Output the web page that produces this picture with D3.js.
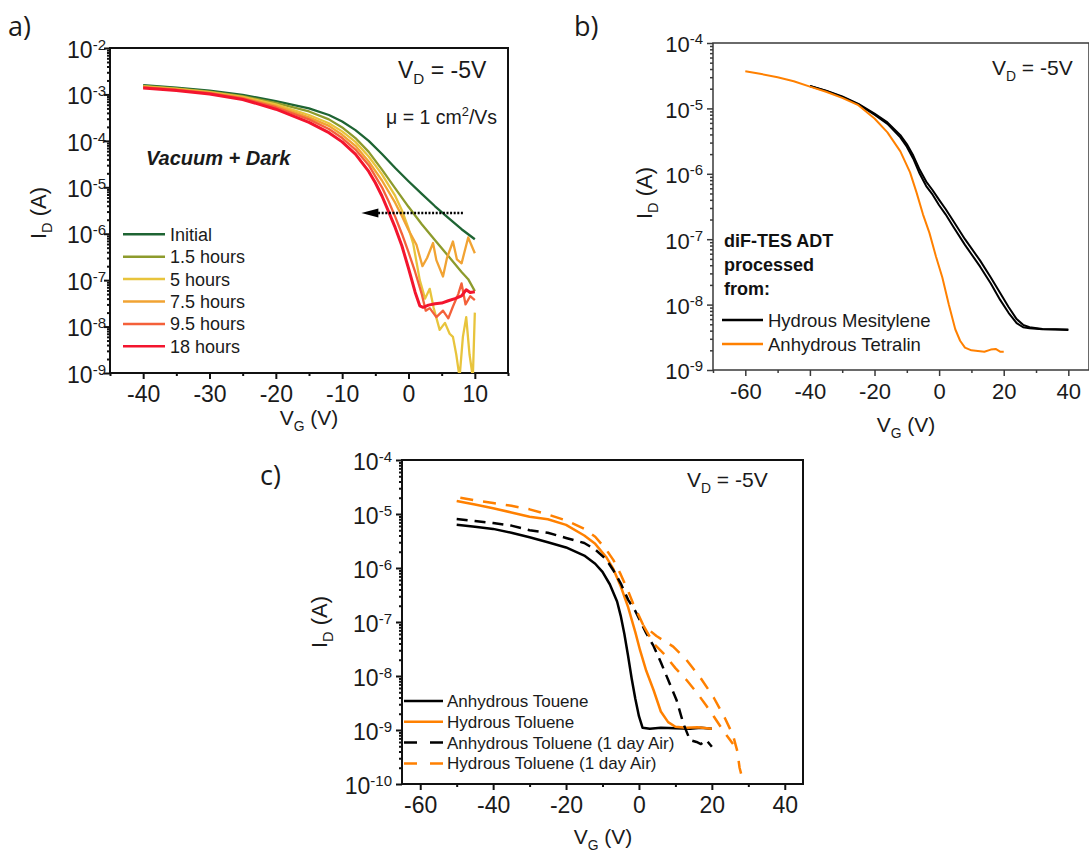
<!DOCTYPE html>
<html>
<head>
<meta charset="utf-8">
<script src="https://cdn.jsdelivr.net/npm/d3@7"></script>
<style>
  body { margin: 0; background: #fff; }
  svg text { font-family: "Liberation Sans", Arial, sans-serif; white-space: pre; }
</style>
</head>
<body>
<svg id="fig" width="1089" height="857"></svg>
<script>
// ---------- panel a : vacuum + dark, transfer curves over time ----------
const aNames = ["Initial", "1.5 hours", "5 hours", "7.5 hours", "9.5 hours", "18 hours"];
const aColors = ["#1e6433", "#8d9b2c", "#e8c43c", "#f1a333", "#f4603a", "#f3152e"];

const aInitial = [[-40, 1.58e-3], [-35, 1.40e-3], [-30, 1.20e-3], [-25, 9.8e-4], [-20, 7.2e-4], [-15, 5.0e-4],
  [-12, 3.6e-4], [-10, 2.6e-4], [-8, 1.7e-4], [-6, 1.0e-4], [-4, 5.2e-5], [-2, 2.6e-5], [0, 1.35e-5],
  [2, 7.2e-6], [4, 3.9e-6], [6, 2.2e-6], [8, 1.25e-6], [10, 7.6e-7]];
const a1h5 = [[-40, 1.52e-3], [-35, 1.35e-3], [-30, 1.15e-3], [-25, 9.2e-4], [-20, 6.6e-4], [-15, 4.3e-4],
  [-12, 2.9e-4], [-10, 1.95e-4], [-8, 1.15e-4], [-6, 5.8e-5], [-4, 2.4e-5], [-2, 9.5e-6], [0, 3.8e-6],
  [2, 1.6e-6], [4, 7.2e-7], [6, 3.3e-7], [8, 1.5e-7], [9, 1.05e-7], [10, 5.8e-8]];
const a5h = [[-40, 1.49e-3], [-35, 1.32e-3], [-30, 1.12e-3], [-25, 8.9e-4], [-20, 6.1e-4], [-15, 3.6e-4],
  [-12, 2.4e-4], [-10, 1.6e-4], [-8, 9.5e-5], [-6, 4.6e-5], [-4, 1.9e-5], [-2, 6.5e-6], [-1, 3.2e-6],
  [0, 1.3e-6], [0.7, 6.2e-7], [1.7, 1.0e-7], [2.5, 4.0e-8], [3.2, 6.5e-8], [3.8, 2.5e-8], [4.7, 8.5e-9],
  [5.5, 1.2e-8], [6.2, 7.0e-9], [6.7, 6.0e-9], [7.2, 2.5e-9], [7.7, 8.0e-10], [8.2, 6.0e-9], [8.7, 1.6e-8],
  [9.2, 2.5e-9], [9.7, 8.0e-10], [10, 2.0e-8]];
const a7h5 = [[-40, 1.46e-3], [-35, 1.29e-3], [-30, 1.09e-3], [-25, 8.5e-4], [-20, 5.7e-4], [-15, 3.2e-4],
  [-12, 2.1e-4], [-10, 1.35e-4], [-8, 7.8e-5], [-6, 3.6e-5], [-4, 1.4e-5], [-2, 4.6e-6], [-1, 2.4e-6],
  [0, 1.2e-6], [1.2, 5.8e-7], [2.1, 2.0e-7], [2.8, 3.0e-7], [3.7, 6.3e-7], [4.2, 2.7e-7], [5.2, 1.2e-7],
  [5.8, 3.0e-7], [6.7, 6.8e-7], [7.3, 2.8e-7], [8, 2.3e-7], [9, 8.3e-7], [10, 3.8e-7]];
const a9h5 = [[-40, 1.42e-3], [-35, 1.26e-3], [-30, 1.06e-3], [-25, 8.2e-4], [-20, 5.3e-4], [-15, 2.9e-4],
  [-12, 1.8e-4], [-10, 1.15e-4], [-8, 6.5e-5], [-6, 3.0e-5], [-4, 1.0e-5], [-3, 5.0e-6], [-2, 2.3e-6],
  [-1, 1.0e-6], [0, 4.0e-7], [1, 1.5e-7], [2, 5.0e-8], [2.6, 2.2e-8], [3.2, 2.5e-8], [4.2, 1.6e-8],
  [5.2, 2.2e-8], [6, 1.5e-8], [6.7, 2.7e-8], [7.5, 5.0e-8], [8, 8.5e-8], [8.6, 3.0e-8], [9.3, 4.5e-8],
  [10, 3.7e-8]];
const a18h = [[-40, 1.38e-3], [-35, 1.22e-3], [-30, 1.02e-3], [-25, 7.8e-4], [-20, 4.8e-4], [-15, 2.5e-4],
  [-12, 1.5e-4], [-10, 9.5e-5], [-8, 5.2e-5], [-6, 2.2e-5], [-5, 1.25e-5], [-4, 6.5e-6], [-3, 3.0e-6],
  [-2, 1.35e-6], [-1, 5.5e-7], [0, 1.8e-7], [1, 5.5e-8], [1.7, 2.8e-8], [2.2, 2.6e-8], [3, 2.9e-8],
  [4, 3.1e-8], [5, 3.2e-8], [6, 3.6e-8], [7, 4.0e-8], [8, 4.6e-8], [8.7, 6.2e-8], [9.3, 5.4e-8], [10, 5.6e-8]];
const aSeries = [aInitial, a1h5, a5h, a7h5, a9h5, a18h];
const aArrow = [8.2, -7.1, 2.8e-6]; // from V, to V, at I

// ---------- panel b : solvent comparison ----------
const bNames = ["Hydrous Mesitylene", "Anhydrous Tetralin"];
const bColors = ["#000000", "#ff8000"];
const bMesitylene = [[-40, 2.2e-5], [-35, 1.85e-5], [-30, 1.5e-5], [-25, 1.15e-5], [-20, 8.0e-6], [-16, 5.8e-6],
  [-12, 3.6e-6], [-10, 2.6e-6], [-8, 1.7e-6], [-6, 1.0e-6], [-4, 6.5e-7], [-2, 4.8e-7], [0, 3.3e-7],
  [2, 2.4e-7], [4.4, 1.55e-7], [8, 8.2e-8], [12.7, 3.8e-8], [16, 2.1e-8], [18.9, 1.18e-8], [21.5, 7.5e-9],
  [24, 5.2e-9], [26, 4.5e-9], [28, 4.35e-9], [32, 4.2e-9], [36, 4.15e-9], [40, 4.1e-9]];
const bMesityleneRev = [[-40, 2.2e-5], [-35, 1.86e-5], [-30, 1.52e-5], [-25, 1.17e-5], [-20, 8.3e-6], [-16, 6.1e-6],
  [-12, 3.9e-6], [-10, 2.85e-6], [-8, 1.9e-6], [-6, 1.15e-6], [-4, 7.6e-7], [-2, 5.6e-7], [0, 4.0e-7],
  [2, 2.9e-7], [4.4, 1.9e-7], [8, 1.0e-7], [12.7, 4.7e-8], [16, 2.6e-8], [18.9, 1.5e-8], [21.5, 9.2e-9],
  [24, 6.0e-9], [26, 4.9e-9], [28, 4.5e-9], [32, 4.25e-9], [36, 4.2e-9], [40, 4.15e-9]];
const bTetralin = [[-60, 3.7e-5], [-55, 3.35e-5], [-50, 3.0e-5], [-45, 2.6e-5], [-40, 2.15e-5], [-35, 1.8e-5],
  [-30, 1.45e-5], [-25, 1.12e-5], [-20, 7.0e-6], [-16, 4.3e-6], [-12, 2.2e-6], [-9, 1.05e-6], [-7, 5.2e-7],
  [-5, 2.4e-7], [-3, 1.25e-7], [-1, 5.5e-8], [1, 2.6e-8], [3, 1.0e-8], [5, 4.2e-9], [6.5, 2.8e-9],
  [8, 2.2e-9], [10, 2.0e-9], [12, 1.95e-9], [14, 1.9e-9], [16, 2.05e-9], [17.5, 2.1e-9], [19, 1.9e-9], [20, 1.9e-9]];
const bTitle = ["diF-TES ADT", "processed", "from:"];

// ---------- panel c : toluene, fresh and after 1 day in air ----------
const cNames = ["Anhydrous Touene", "Hydrous Toluene", "Anhydrous Toluene (1 day Air)", "Hydrous Toluene (1 day Air)"];
const cColors = ["#000000", "#ff8000", "#000000", "#ff8000"];
const cDashed = [false, false, true, true];
const cAnhydrous = [[-50, 6.3e-6], [-45, 5.8e-6], [-40, 5.3e-6], [-35, 4.5e-6], [-30, 3.7e-6], [-25, 3.0e-6],
  [-20, 2.4e-6], [-15, 1.7e-6], [-12, 1.2e-6], [-10, 8.5e-7], [-8, 5.0e-7], [-6, 2.4e-7], [-5, 1.3e-7],
  [-4, 6.0e-8], [-3, 2.4e-8], [-2, 9.0e-9], [-1, 3.8e-9], [0, 1.8e-9], [1, 1.1e-9], [3, 1.05e-9],
  [6, 1.1e-9], [10, 1.08e-9], [14, 1.05e-9], [17, 1.1e-9], [20, 1.05e-9]];
const cHydrous = [[-50, 1.74e-5], [-45, 1.5e-5], [-40, 1.28e-5], [-35, 1.07e-5], [-30, 8.9e-6], [-25, 8.0e-6],
  [-20, 6.3e-6], [-15, 4.0e-6], [-12, 2.8e-6], [-9, 1.6e-6], [-7, 9.5e-7], [-5, 4.6e-7], [-3, 1.9e-7],
  [-1, 6.5e-8], [0.3, 3.0e-8], [2, 1.25e-8], [4, 5.5e-9], [6, 2.2e-9], [8, 1.4e-9], [10, 1.15e-9],
  [13, 1.1e-9], [16, 1.12e-9], [20, 1.05e-9]];
const cAnhydrousAir = [[-50, 8.1e-6], [-45, 7.4e-6], [-40, 6.8e-6], [-35, 6.1e-6], [-30, 5.0e-6], [-25, 4.5e-6],
  [-20, 3.6e-6], [-15, 2.9e-6], [-12, 2.2e-6], [-9, 1.45e-6], [-7, 9.0e-7], [-5, 5.2e-7], [-3, 2.6e-7],
  [-1, 1.6e-7], [2, 6.2e-8], [4, 3.6e-8], [6, 1.8e-8], [8, 8.5e-9], [10.3, 3.6e-9], [12.2, 1.3e-9],
  [14, 6.5e-10], [15.8, 6.0e-10], [17, 5.5e-10], [18.5, 6.5e-10], [20, 4.9e-10]];
const cHydrousAir = [[-49, 2.0e-5], [-45, 1.8e-5], [-40, 1.6e-5], [-35, 1.42e-5], [-30, 1.22e-5], [-25, 9.8e-6],
  [-20, 7.6e-6], [-15, 5.3e-6], [-12, 3.8e-6], [-9, 2.2e-6], [-7, 1.4e-6], [-5, 7.6e-7], [-3, 3.8e-7],
  [-1.6, 2.2e-7], [0, 1.3e-7], [1.2, 8.7e-8], [4.8, 5.5e-8], [9.4, 3.5e-8], [13, 2.0e-8], [17, 9.0e-9],
  [20.5, 4.0e-9], [23.5, 1.7e-9], [25.8, 8.0e-10], [27, 4.0e-10], [27.6, 2.0e-10], [28.2, 1.4e-10]];
const cHydrousAirRev = [[1.2, 8.7e-8], [4, 4.0e-8], [7, 2.5e-8], [10, 1.4e-8], [13, 8.5e-9], [16, 4.8e-9],
  [18.5, 2.8e-9], [20.5, 1.8e-9], [23, 1.0e-9], [25, 6.5e-10], [25.8, 5.5e-10]];

// ---------- drawing ----------
const svg = d3.select("#fig");
let clipCount = 0;

const decades = (lo, hi) => d3.range(lo, hi + 1).map(e => Math.pow(10, e));
const subDecades = (lo, hi) =>
  d3.range(lo, hi).flatMap(e => d3.range(2, 10).map(k => k * Math.pow(10, e)));

// text made of plain / sub / sup pieces
const richText = (parent, x, y, parts, size, attrs = {}) => {
  const t = parent.append("text").attr("x", x).attr("y", y).attr("font-size", size);
  Object.entries(attrs).forEach(([k, v]) => t.attr(k, v));
  let shift = 0;
  parts.forEach(([s, kind]) => {
    const target = kind === "sub" ? size * 0.28 : kind === "sup" ? -size * 0.42 : 0;
    const sp = t.append("tspan").attr("dy", target - shift).text(s);
    if (kind) sp.attr("font-size", size * 0.66);
    shift = target;
  });
  return t;
};

const makePanel = p => {
  const x = d3.scaleLinear().domain(p.xDomain).range([p.box.left, p.box.right]);
  const y = d3.scaleLog().domain(p.yDomain).range([p.box.bottom, p.box.top]);
  const g = svg.append("g");
  const id = "clip" + clipCount++;
  g.append("clipPath").attr("id", id).append("rect")
    .attr("x", p.box.left).attr("y", p.box.top)
    .attr("width", p.box.right - p.box.left).attr("height", p.box.bottom - p.box.top);

  const styleAxis = ax => {
    ax.attr("font-family", null).attr("font-size", null);
    ax.select(".domain").remove();
    ax.selectAll("line").attr("stroke", p.axisColor).attr("stroke-width", p.axisWidth);
  };

  // x axis
  const xMinor = g.append("g").attr("transform", `translate(0,${p.box.bottom})`)
    .call(d3.axisBottom(x).tickValues(p.xMinor).tickSize(3).tickFormat(""));
  styleAxis(xMinor);
  const xMajor = g.append("g").attr("transform", `translate(0,${p.box.bottom})`)
    .call(d3.axisBottom(x).tickValues(p.xMajor).tickSize(6).tickPadding(7).tickFormat(d => String(d)));
  styleAxis(xMajor);
  xMajor.selectAll("text").attr("font-size", p.tickFont).attr("fill", "#1a1a1a");

  // y axis, log decades
  const yMinor = g.append("g").attr("transform", `translate(${p.box.left},0)`)
    .call(d3.axisLeft(y).tickValues(subDecades(p.yExp[0], p.yExp[1])).tickSize(3).tickFormat(""));
  styleAxis(yMinor);
  const yMajor = g.append("g").attr("transform", `translate(${p.box.left},0)`)
    .call(d3.axisLeft(y).tickValues(decades(p.yExp[0], p.yExp[1])).tickSize(6)
      .tickPadding(p.yPad).tickFormat(""));
  styleAxis(yMajor);
  yMajor.selectAll(".tick text").each(function (d) {
    const t = d3.select(this).attr("dy", "0.4em").attr("font-size", p.tickFont).attr("fill", "#1a1a1a");
    t.append("tspan").text("10");
    t.append("tspan").attr("dy", -8).attr("font-size", 15).text(Math.round(Math.log10(d)));
  });

  // frame
  g.append("path")
    .attr("d", `M${p.box.left},${p.box.bottom}V${p.box.top}H${p.box.right}V${p.box.bottom}Z`)
    .attr("fill", "none").attr("stroke", p.axisColor).attr("stroke-width", p.axisWidth);

  // axis titles
  richText(g, p.xTitle[0], p.xTitle[1], [["V"], ["G", "sub"], [" (V)"]], 21,
    { "text-anchor": "middle", fill: "#1a1a1a" });
  richText(g, 0, 0, [["I"], ["D", "sub"], [" (A)"]], 22,
    { "text-anchor": "middle", fill: "#1a1a1a",
      transform: `translate(${p.yTitle[0]},${p.yTitle[1]}) rotate(-90)` });

  // panel letter
  g.append("text").attr("x", p.letter[1]).attr("y", p.letter[2]).text(p.letter[0])
    .style("font-family", "'Open Sans', 'Noto Sans', sans-serif").attr("font-size", 27).attr("fill", "#1a1a1a");

  const plot = g.append("g").attr("clip-path", `url(#${id})`);
  const line = d3.line().x(d => x(d[0])).y(d => y(d[1]));
  return { x, y, g, plot, line };
};

// ----- panel a -----
const pa = makePanel({
  box: { left: 110, right: 508, top: 48, bottom: 373 },
  xDomain: [-45, 15], yDomain: [1e-9, 1e-2], yExp: [-9, -2],
  xMajor: [-40, -30, -20, -10, 0, 10], xMinor: [-45, -35, -25, -15, -5, 5, 15],
  axisColor: "#111", axisWidth: 2, yPad: -2, tickFont: 23,
  xTitle: [309, 425], yTitle: [46, 213], letter: ["a)", 8, 36]
});
aSeries.forEach((s, i) => {
  pa.plot.append("path").attr("d", pa.line(s)).attr("fill", "none")
    .attr("stroke", aColors[i]).attr("stroke-width", i === 5 ? 3 : 2.3)
    .attr("stroke-linejoin", "round");
});
// shift arrow
{
  const [fromV, toV, atI] = aArrow;
  const ay = pa.y(atI), tip = pa.x(toV);
  pa.g.append("line").attr("x1", pa.x(fromV)).attr("x2", tip + 14).attr("y1", ay).attr("y2", ay)
    .attr("stroke", "#000").attr("stroke-width", 2.5).attr("stroke-dasharray", "2,1.6");
  pa.g.append("path").attr("d", `M${tip},${ay}L${tip + 17},${ay - 4.5}L${tip + 17},${ay + 4.5}Z`).attr("fill", "#000");
}
richText(pa.g, 398, 78, [["V"], ["D", "sub"], [" = -5V"]], 23, { fill: "#1a1a1a" });
richText(pa.g, 386, 124, [["\u03bc = 1 cm"], ["2", "sup"], ["/Vs"]], 19.5, { fill: "#1a1a1a" });
pa.g.append("text").attr("x", 146).attr("y", 165).text("Vacuum + Dark")
  .attr("font-size", 20).attr("font-weight", "bold").attr("font-style", "italic").attr("fill", "#1a1a1a");
aNames.forEach((n, i) => {
  const ly = 234.3 + i * 22.4;
  pa.g.append("line").attr("x1", 123).attr("x2", 165).attr("y1", ly).attr("y2", ly)
    .attr("stroke", aColors[i]).attr("stroke-width", 2.5);
  pa.g.append("text").attr("x", 170).attr("y", ly + 6.5).text(n).attr("font-size", 18).attr("fill", "#1a1a1a");
});

// ----- panel b -----
const pb = makePanel({
  box: { left: 713, right: 1089, top: 43, bottom: 370 },
  xDomain: [-70, 46.4], yDomain: [1e-9, 1e-4], yExp: [-9, -4],
  xMajor: [-60, -40, -20, 0, 20, 40], xMinor: [-70, -50, -30, -10, 10, 30],
  axisColor: "#3a3a3a", axisWidth: 1.5, yPad: 4, tickFont: 22,
  xTitle: [906, 432], yTitle: [652, 193], letter: ["b)", 574, 36]
});
[[bMesitylene, 0], [bMesityleneRev, 0], [bTetralin, 1]].forEach(([s, c]) => {
  pb.plot.append("path").attr("d", pb.line(s)).attr("fill", "none")
    .attr("stroke", bColors[c]).attr("stroke-width", 2).attr("stroke-linejoin", "round");
});
richText(pb.g, 992, 75, [["V"], ["D", "sub"], [" = -5V"]], 21, { fill: "#1a1a1a" });
bTitle.forEach((t, i) => {
  pb.g.append("text").attr("x", 724).attr("y", 246.7 + i * 24.2).text(t)
    .attr("font-size", 18).attr("font-weight", "bold").attr("fill", "#111");
});
bNames.forEach((n, i) => {
  const ly = 320 + i * 24;
  pb.g.append("line").attr("x1", 722).attr("x2", 763).attr("y1", ly).attr("y2", ly)
    .attr("stroke", bColors[i]).attr("stroke-width", 2.5);
  pb.g.append("text").attr("x", 768).attr("y", ly + 6.5).text(n).attr("font-size", 18.5).attr("fill", "#1a1a1a");
});

// ----- panel c -----
const pc = makePanel({
  box: { left: 402, right: 803, top: 460, bottom: 784 },
  xDomain: [-65, 45], yDomain: [1e-10, 1e-4], yExp: [-10, -4],
  xMajor: [-60, -40, -20, 0, 20, 40], xMinor: [-50, -30, -10, 10, 30],
  axisColor: "#111", axisWidth: 2, yPad: 4, tickFont: 23,
  xTitle: [603, 844], yTitle: [327, 622], letter: ["c)", 260, 485]
});
[[cAnhydrous, 0], [cHydrous, 1], [cAnhydrousAir, 2], [cHydrousAir, 3], [cHydrousAirRev, 3]].forEach(([s, i]) => {
  pc.plot.append("path").attr("d", pc.line(s)).attr("fill", "none")
    .attr("stroke", cColors[i]).attr("stroke-width", 2.5).attr("stroke-linejoin", "round")
    .attr("stroke-dasharray", cDashed[i] ? (i === 3 ? "13,10" : "11,7") : null);
});
richText(pc.g, 687, 487, [["V"], ["D", "sub"], [" = -5V"]], 21, { fill: "#1a1a1a" });
cNames.forEach((n, i) => {
  const ly = 701 + i * 20.8;
  pc.g.append("line").attr("x1", 404).attr("x2", 443).attr("y1", ly).attr("y2", ly)
    .attr("stroke", cColors[i]).attr("stroke-width", 2.5)
    .attr("stroke-dasharray", cDashed[i] ? "13,13" : null);
  pc.g.append("text").attr("x", 447).attr("y", ly + 6).text(n).attr("font-size", 17).attr("fill", "#1a1a1a");
});
</script>
</body>
</html>
